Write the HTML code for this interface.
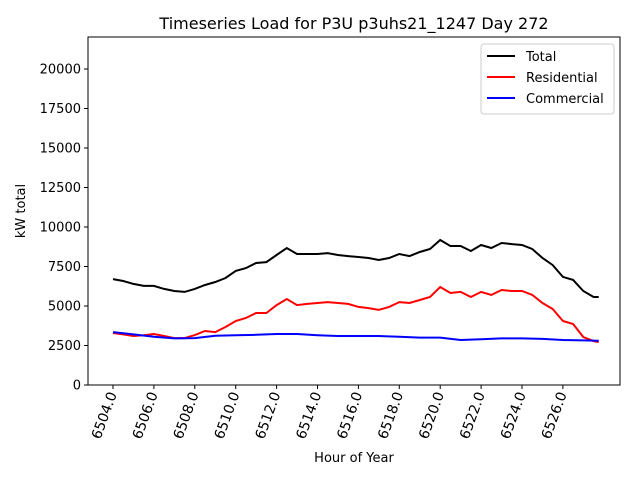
<!DOCTYPE html>
<html><head><meta charset="utf-8"><style>
body{margin:0;background:#fff;font-family:"DejaVu Sans","Liberation Sans",sans-serif;}
</style></head><body>
<svg id="chart" width="640" height="480" viewBox="0 0 640 480">
<rect width="640" height="480" fill="#fff"/>
<text x="354" y="29" font-size="16" text-anchor="middle">Timeseries Load for P3U p3uhs21_1247  Day 272</text>
<rect x="88" y="37" width="532" height="348" fill="none" stroke="#000" stroke-width="1"/>
<g id="axes"></g>
<g id="series"></g>
<text x="354" y="462" font-size="13" text-anchor="middle">Hour of Year</text>
<text x="25" y="211" font-size="13" text-anchor="middle" transform="rotate(-90 25 211)">kW total</text>
<g>
<rect x="481" y="44" width="133" height="70" rx="3" fill="#fff" stroke="#ccc"/>
<line x1="487" y1="56" x2="515" y2="56" stroke="#000" stroke-width="2"/>
<text x="526" y="61" font-size="13">Total</text>
<line x1="487" y1="77" x2="515" y2="77" stroke="red" stroke-width="2"/>
<text x="526" y="82" font-size="13">Residential</text>
<line x1="487" y1="98" x2="515" y2="98" stroke="blue" stroke-width="2"/>
<text x="526" y="103" font-size="13">Commercial</text>
</g>
</svg>
<script>
const hours=[6504,6504.5,6505,6505.5,6506,6506.5,6507,6507.5,6508,6508.5,6509,6509.5,6510,6510.5,6511,6511.5,6512,6512.5,6513,6513.5,6514,6514.5,6515,6515.5,6516,6516.5,6517,6517.5,6518,6518.5,6519,6519.5,6520,6520.5,6521,6521.5,6522,6522.5,6523,6523.5,6524,6524.5,6525,6525.5,6526,6526.5,6527,6527.5,6527.75];
const total=[6700,6580,6400,6270,6270,6080,5950,5890,6080,6330,6520,6770,7220,7400,7720,7780,8230,8670,8290,8290,8290,8350,8230,8160,8100,8040,7910,8040,8290,8160,8420,8610,9180,8800,8800,8480,8860,8670,8990,8920,8860,8610,8040,7590,6840,6650,5950,5570,5570];
const residential=[3290,3200,3100,3150,3230,3100,2970,2970,3160,3420,3350,3670,4050,4240,4560,4560,5060,5440,5060,5130,5190,5250,5190,5130,4940,4870,4750,4940,5250,5190,5380,5570,6200,5820,5890,5570,5890,5700,6010,5950,5950,5700,5190,4810,4050,3860,3040,2780,2720];
const comHours=[6504,6505,6506,6507,6508,6509,6510,6511,6512,6513,6514,6515,6516,6517,6518,6519,6520,6521,6522,6523,6524,6525,6526,6527,6527.75];
const commercial=[3350,3200,3050,2950,2970,3120,3150,3180,3230,3230,3150,3100,3100,3100,3050,3000,3000,2850,2900,2950,2950,2920,2850,2820,2800];
const yTicks=[0,2500,5000,7500,10000,12500,15000,17500,20000];
const xTicks=[6504,6506,6508,6510,6512,6514,6516,6518,6520,6522,6524,6526];
const NS="http://www.w3.org/2000/svg";
function xs(h){return 113+(h-6504)*20.45;}
function ys(v){return 385-v*(316/20000);}
const axes=document.getElementById('axes'),series=document.getElementById('series');
yTicks.forEach(v=>{
 const l=document.createElementNS(NS,'line');
 l.setAttribute('x1',84);l.setAttribute('x2',88);l.setAttribute('y1',ys(v));l.setAttribute('y2',ys(v));l.setAttribute('stroke','#000');
 
 
 axes.appendChild(l);
 const t=document.createElementNS(NS,'text');
 t.setAttribute('x',81);t.setAttribute('y',ys(v)+4.5);t.setAttribute('font-size','13');t.setAttribute('text-anchor','end');
 t.textContent=v;
 
 
 axes.appendChild(t);
});
xTicks.forEach(h=>{
 const x=xs(h);
 const l=document.createElementNS(NS,'line');
 l.setAttribute('x1',x);l.setAttribute('x2',x);l.setAttribute('y1',385);l.setAttribute('y2',389);l.setAttribute('stroke','#000');
 
 
 axes.appendChild(l);
 const t=document.createElementNS(NS,'text');
 t.setAttribute('font-size','14');t.setAttribute('text-anchor','end');
 t.setAttribute('transform','translate('+(x+4)+',394) rotate(-70)');
 t.textContent=h.toFixed(1);
 
 
 axes.appendChild(t);
});
function line(xv,yv,color,name){
 const p=document.createElementNS(NS,'polyline');
 p.setAttribute('points',xv.map((h,i)=>xs(h).toFixed(1)+','+ys(yv[i]).toFixed(1)).join(' '));
 p.setAttribute('fill','none');p.setAttribute('stroke',color);p.setAttribute('stroke-width','2');
 
 
 series.appendChild(p);
}
line(hours,total,'#000','total-line');
line(hours,residential,'red','residential-line');
line(comHours,commercial,'blue','commercial-line');
</script>
</body></html>
